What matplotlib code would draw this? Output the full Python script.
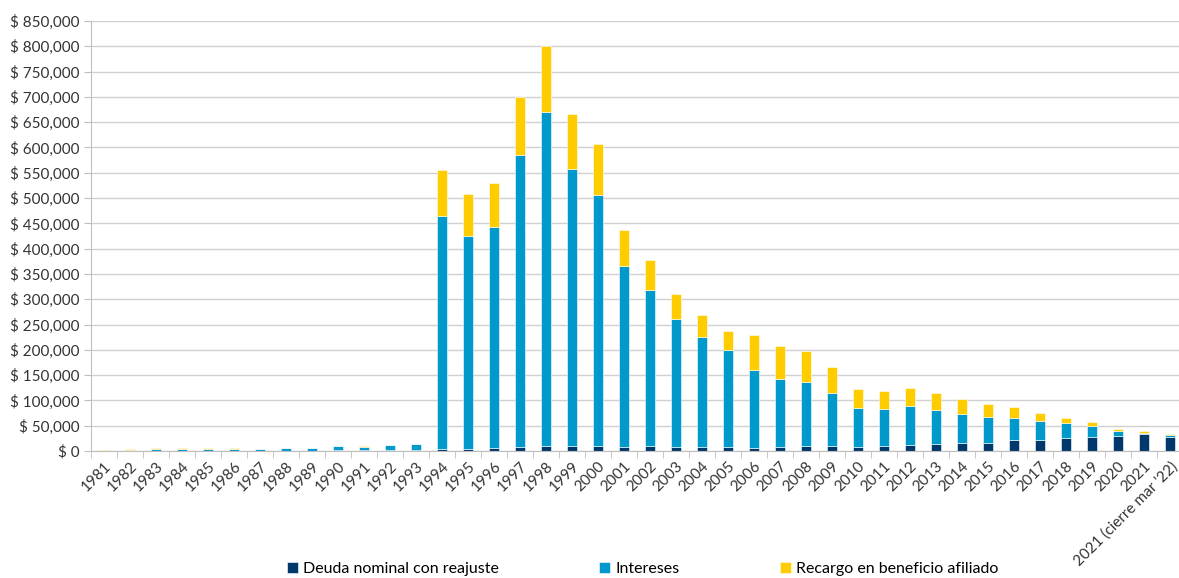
import numpy as np
import matplotlib.pyplot as plt
from matplotlib.ticker import FuncFormatter, MultipleLocator, FixedLocator

plt.rcParams["font.family"] = ["Lato", "DejaVu Sans"]

years = [str(y) for y in range(1981, 2022)] + ["2021 (cierre mar '22)"]

# cumulative tops (thousands of $)
dark = [0.3, 0.4, 0.6, 0.6, 0.6, 0.6, 0.5, 0.7, 0.7, 1.0, 1.0, 1.2, 1.5,
        3.3, 4.7, 6.0, 8.0, 10.7, 10.7, 10.7, 8.7, 9.3, 8.0, 8.0, 7.3, 6.7,
        8.4, 9.0, 9.0, 8.0, 9.0, 12.0, 13.0, 15.5, 16.0, 21.0, 21.5, 25.0,
        27.0, 29.0, 34.0, 28.0]
blue_top = [0.5, 2.5, 4.8, 4.8, 4.8, 4.8, 3.9, 5.8, 5.8, 9.4, 8.7, 11.0, 13.5,
            465, 425, 443, 585, 670, 558, 507, 366, 318, 261, 225, 199, 160,
            142, 136, 114, 85, 82.5, 88, 81, 73, 67.5, 65, 59, 56, 49, 40, 36, 32]
total = [1.8, 3.0, 5.3, 5.3, 5.3, 5.3, 4.4, 6.3, 6.3, 10.0, 9.3, 11.8, 14.5,
         555, 508, 530, 700, 800, 666, 606, 436, 377, 311, 268, 238, 230,
         208, 197, 166, 122, 118, 124, 115, 102, 92, 87, 76, 65, 58, 44, 39, 34.4]

deuda = np.array(dark) * 1000
intereses = (np.array(blue_top) - np.array(dark)) * 1000
recargo = (np.array(total) - np.array(blue_top)) * 1000

c_dark, c_blue, c_yel = "#00386B", "#0099CC", "#FFCC00"

fig = plt.figure(figsize=(11.79, 5.78), dpi=100)
ax = fig.add_axes([91 / 1179, 1 - 451 / 578, 1 - 91 / 1179, (451 - 21) / 578])

x = np.arange(len(years))
w = 0.42
kw = dict(width=w, edgecolor="white", linewidth=0.4)
ax.bar(x, deuda, color=c_dark, label="Deuda nominal con reajuste", **kw)
ax.bar(x, intereses, bottom=deuda, color=c_blue, label="Intereses", **kw)
ax.bar(x, recargo, bottom=deuda + intereses, color=c_yel,
       label="Recargo en beneficio afiliado", **kw)

ax.set_ylim(0, 850000)
ax.set_xlim(-0.5, (1179 - 104) / 26.0)
ax.yaxis.set_major_locator(MultipleLocator(50000))
ax.yaxis.set_major_formatter(FuncFormatter(lambda v, p: f"$ {v:,.0f}"))
ax.grid(axis="y", color="#D0D0D0", lw=1.0)
ax.set_axisbelow(True)

ax.set_xticks(x)
ax.set_xticklabels(years, rotation=45, ha="right", rotation_mode="anchor", fontsize=11)
ax.tick_params(axis="x", length=0, pad=6)
ax.xaxis.set_minor_locator(FixedLocator(np.arange(-0.5, len(years), 1.0)))
ax.tick_params(axis="x", which="minor", length=5, color="#BFBFBF")
ax.tick_params(axis="y", length=5, color="#BFBFBF", labelsize=11, labelcolor="#333333")
ax.tick_params(axis="x", labelcolor="#333333")

for s in ["top", "right"]:
    ax.spines[s].set_visible(False)
ax.spines["left"].set_color("#BFBFBF")
ax.spines["bottom"].set_color("#BFBFBF")

fig.legend(loc="lower center", bbox_to_anchor=(0.545, -0.022), ncol=3, frameon=False,
           fontsize=11.5, handlelength=0.7, handleheight=0.7, handletextpad=0.3,
           columnspacing=6.3)

fig.savefig("out.png", dpi=100)
